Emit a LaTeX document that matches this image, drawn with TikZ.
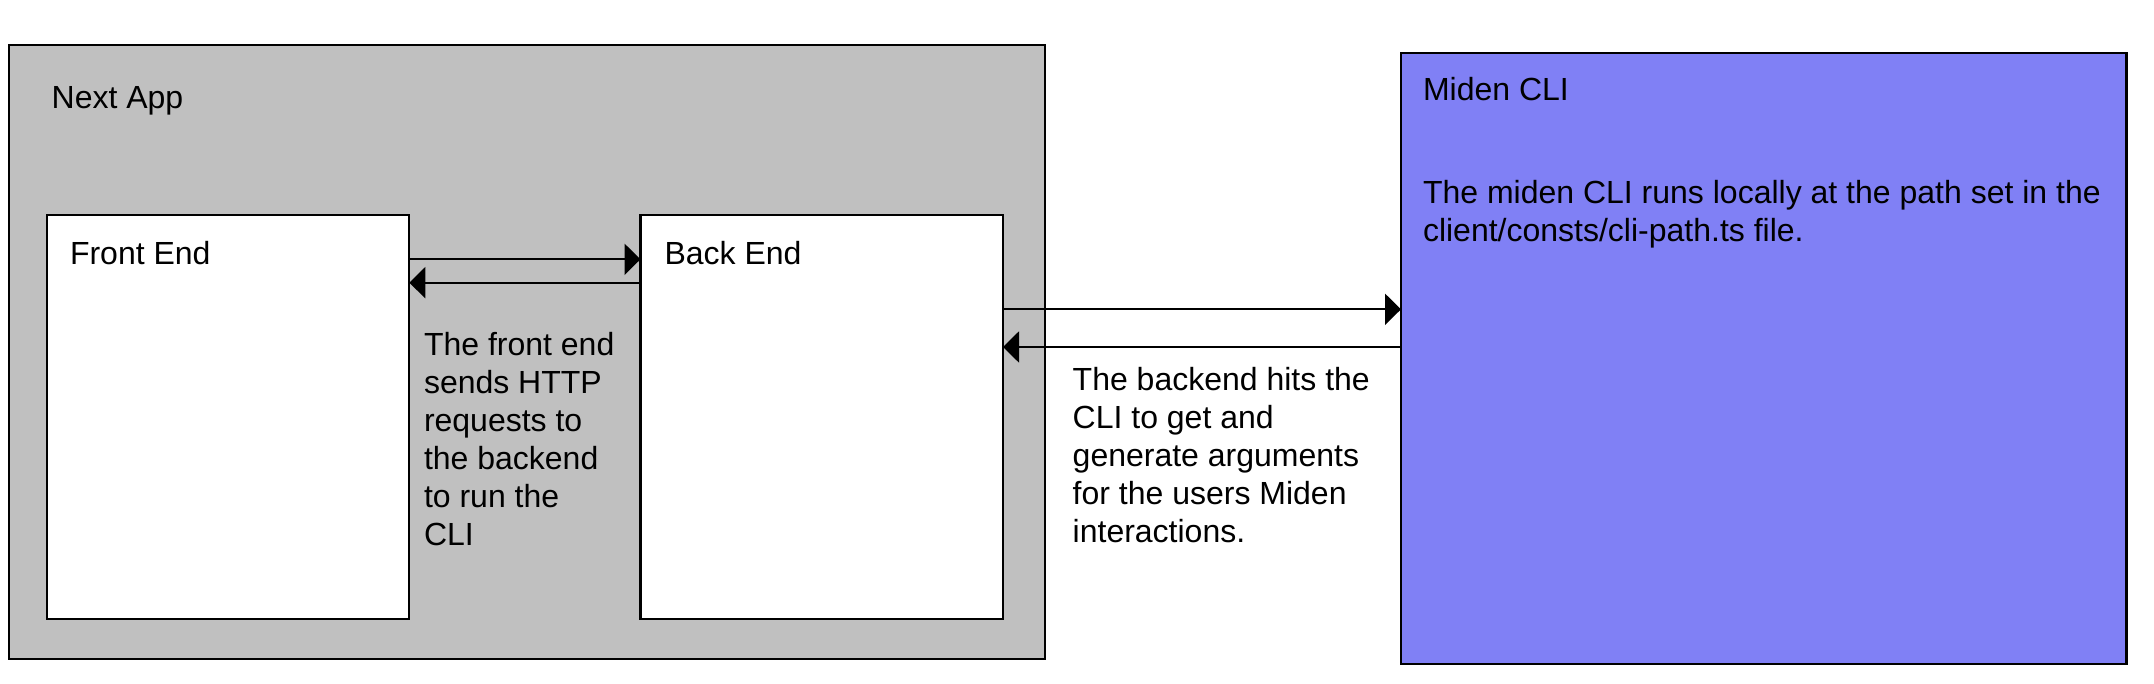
\documentclass[tikz,border=0pt]{standalone}
\usepackage{fontspec}
\setmainfont{Liberation Sans}
\usetikzlibrary{arrows.meta}
\definecolor{appgray}{RGB}{192,192,192}
\definecolor{cliblue}{RGB}{128,128,245}
\tikzset{
  box/.style={draw=black, line width=2.3pt, inner sep=0pt, outer sep=0pt, anchor=north west},
  conn/.style={draw=black, line width=2.2pt, -{Triangle[length=16pt,width=31pt]}},
  lbl/.style={inner sep=0pt, outer sep=0pt, anchor=base west, text=black},
}
\newcommand{\txtblock}[2]{\parbox[t]{#1}{\raggedright\fontsize{32}{38}\selectfont #2}}
\begin{document}
\begin{tikzpicture}[x=1pt,y=1pt]
\useasboundingbox (0,0) rectangle (2154,684);
\fill[white] (0,0) rectangle (2154,684);
% containers
\node[box, fill=appgray, minimum width=1036pt, minimum height=614pt] (app) at (9,639) {};
\node[box, fill=white, minimum width=362.6pt, minimum height=404pt] (fe) at (46.7,469) {};
\node[box, fill=white, minimum width=362.5pt, minimum height=404pt] (be) at (640.5,469) {};
\node[box, fill=cliblue, minimum width=725.5pt, minimum height=611.6pt] (cli) at (1401,631.3) {};
% titles
\node[lbl] (appt) at (51.7,575.7) {\txtblock{400pt}{Next App}};
\node[lbl] (fet) at (70,419) {\txtblock{300pt}{Front End}};
\node[lbl] (bet) at (664.5,419) {\txtblock{300pt}{Back End}};
\node[lbl] (clit) at (1423,583) {\txtblock{400pt}{Miden CLI}};
\node[lbl] (clidesc) at (1423,480.7) {\txtblock{720pt}{The miden CLI runs locally at the path set in the\\client/consts/cli-path.ts file.}};
% connector labels
\node[lbl] (felbl) at (424,328) {\txtblock{300pt}{The front end\\sends HTTP\\requests to\\the backend\\to run the\\CLI}};
\node[lbl] (belbl) at (1072.7,293) {\txtblock{400pt}{The backend hits the\\CLI to get and\\generate arguments\\for the users Miden\\interactions.}};
% connectors
\coordinate (y1) at (0,424.7);
\coordinate (y2) at (0,401.3);
\coordinate (y3) at (0,374.7);
\coordinate (y4) at (0,337);
\draw[conn] (fe.east |- y1) -- (be.west |- y1);
\draw[conn] (be.west |- y2) -- (fe.east |- y2);
\draw[conn] (be.east |- y3) -- (cli.west |- y3);
\draw[conn] (cli.west |- y4) -- (be.east |- y4);
\end{tikzpicture}
\end{document}
